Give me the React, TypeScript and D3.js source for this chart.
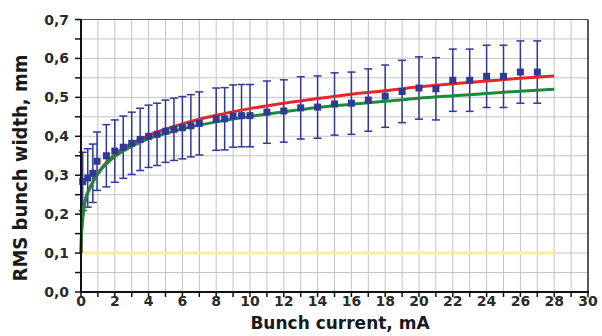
import React from "react";
import * as d3 from "d3";

const currents = [0.1, 0.4, 0.7, 0.95, 1.5, 2, 2.5, 3, 3.5, 4, 4.5, 5, 5.5, 6, 6.5, 7, 8, 8.5, 9, 9.5, 10, 11, 12, 13, 14, 15, 16, 17, 18, 19, 20, 21, 22, 23, 24, 25, 26, 27];
const widths = [0.284, 0.293, 0.305, 0.336, 0.35, 0.362, 0.372, 0.382, 0.392, 0.4, 0.405, 0.413, 0.418, 0.422, 0.427, 0.433, 0.444, 0.445, 0.452, 0.453, 0.453, 0.462, 0.465, 0.473, 0.475, 0.483, 0.485, 0.493, 0.503, 0.515, 0.524, 0.522, 0.544, 0.544, 0.554, 0.554, 0.565, 0.565];
const errors = [0.075, 0.075, 0.075, 0.075, 0.08, 0.08, 0.08, 0.08, 0.08, 0.08, 0.08, 0.08, 0.08, 0.08, 0.08, 0.081, 0.08, 0.08, 0.08, 0.08, 0.08, 0.08, 0.08, 0.08, 0.08, 0.08, 0.08, 0.08, 0.08, 0.08, 0.08, 0.08, 0.08, 0.08, 0.08, 0.08, 0.08, 0.08];

const fitX = [0, 0.03, 0.08, 0.15, 0.25, 0.5, 0.8, 1.2, 1.6, 2, 2.5, 3, 4, 5, 6, 8, 10, 12, 14, 16, 18, 20, 22, 24, 26, 28];
const redFit = [0.1, 0.15, 0.18, 0.21, 0.235, 0.265, 0.29, 0.317, 0.337, 0.353, 0.369, 0.382, 0.402, 0.418, 0.432, 0.454, 0.471, 0.485, 0.497, 0.508, 0.517, 0.527, 0.535, 0.542, 0.549, 0.555];
const greenFit = [0.1, 0.15, 0.18, 0.21, 0.235, 0.265, 0.29, 0.315, 0.333, 0.348, 0.362, 0.374, 0.394, 0.407, 0.419, 0.437, 0.451, 0.463, 0.474, 0.482, 0.49, 0.498, 0.504, 0.51, 0.516, 0.521];

const yellowX = [0, 28.1];
const yellowY = [0.1, 0.1];

const xTicks = [0, 2, 4, 6, 8, 10, 12, 14, 16, 18, 20, 22, 24, 26, 28, 30];
const yTicks = [0, 0.1, 0.2, 0.3, 0.4, 0.5, 0.6, 0.7];
const xTitle = "Bunch current, mA";
const yTitle = "RMS bunch width, mm";

export default function App() {
  const W = 602, H = 336;
  const x = d3.scaleLinear().domain([0, 30]).range([81, 588]);
  const y = d3.scaleLinear().domain([0, 0.7]).range([292, 19.5]);
  const minorX = d3.range(0, 31, 1);
  const minorY = d3.range(0, 0.7001, 0.05);
  const line = d3
    .line<[number, number]>()
    .x((d) => x(d[0]))
    .y((d) => y(d[1]))
    .curve(d3.curveMonotoneX);
  const redPts = fitX.map((v, i) => [v, redFit[i]] as [number, number]);
  const greenPts = fitX.map((v, i) => [v, greenFit[i]] as [number, number]);
  const yellowPts = yellowX.map((v, i) => [v, yellowY[i]] as [number, number]);
  const blue = "#2e3a96";
  const labelFont = "DejaVu Sans, Verdana, sans-serif";
  const fmt = (v: number) => d3.format(".1f")(v).replace(".", ",");

  return (
    <svg width={W} height={H} style={{ position: "absolute", left: 0, top: 0, background: "#fff" }}>
      {/* grid */}
      {minorX.slice(1, -1).map((v) => (
        <line key={"gx" + v} x1={x(v)} x2={x(v)} y1={y(0)} y2={y(0.7)} stroke="#c4c4c4" strokeWidth={1} />
      ))}
      {minorY.slice(1).map((v, i) => (
        <line key={"gy" + i} x1={x(0)} x2={x(30)} y1={y(v)} y2={y(v)} stroke="#c4c4c4" strokeWidth={1} />
      ))}
      {/* frame */}
      <line x1={x(0)} x2={x(30)} y1={y(0.7)} y2={y(0.7)} stroke="#555" strokeWidth={1.2} />
      <line x1={x(30)} x2={x(30)} y1={y(0)} y2={y(0.7)} stroke="#222" strokeWidth={1.5} />
      {/* yellow */}
      <path d={line(yellowPts) || ""} fill="none" stroke="#f6f09c" strokeWidth={3} />
      {/* error bars */}
      {currents.map((c, i) => {
        const cx = x(c);
        const t = y(widths[i] + errors[i]);
        const b = y(widths[i] - errors[i]);
        return (
          <g key={"e" + i} stroke={blue} strokeWidth={1.5}>
            <line x1={cx} x2={cx} y1={t} y2={b} />
            <line x1={cx - 4} x2={cx + 4} y1={t} y2={t} />
            <line x1={cx - 4} x2={cx + 4} y1={b} y2={b} />
          </g>
        );
      })}
      {/* fits */}
      <path d={line(redPts) || ""} fill="none" stroke="#e5262b" strokeWidth={3} />
      <path d={line(greenPts) || ""} fill="none" stroke="#1b8a3c" strokeWidth={3} />
      {/* points */}
      {currents.map((c, i) => (
        <rect key={"p" + i} x={x(c) - 3.5} y={y(widths[i]) - 3.5} width={7} height={7} fill={blue} />
      ))}
      {/* axes */}
      <line x1={x(0)} x2={x(0)} y1={y(0) + 1} y2={y(0.7)} stroke="#111" strokeWidth={2} />
      <line x1={x(0) - 1} x2={x(30) + 1} y1={y(0)} y2={y(0)} stroke="#111" strokeWidth={2} />
      {minorY.map((v, i) => (
        <line key={"ty" + i} x1={x(0) - 6} x2={x(0)} y1={y(v)} y2={y(v)} stroke="#111" strokeWidth={1.5} />
      ))}
      {minorX.map((v) => (
        <line key={"tx" + v} x1={x(v)} x2={x(v)} y1={y(0)} y2={y(0) + 5} stroke="#111" strokeWidth={1.5} />
      ))}
      {yTicks.map((v) => (
        <text key={"ly" + v} x={69} y={y(v)} dy="0.36em" textAnchor="end" fontFamily={labelFont} fontWeight="bold" fontSize={14} fill="#2a2a2a">
          {fmt(v)}
        </text>
      ))}
      {xTicks.map((v) => (
        <text key={"lx" + v} x={x(v)} y={306} textAnchor="middle" fontFamily={labelFont} fontWeight="bold" fontSize={14} fill="#2a2a2a">
          {v}
        </text>
      ))}
      <text x={340} y={329} textAnchor="middle" fontFamily={labelFont} fontWeight="bold" fontSize={17} fill="#1a1a1a">
        {xTitle}
      </text>
      <text
        transform={`translate(27,${168}) rotate(-90)`}
        textAnchor="middle"
        fontFamily="'Liberation Sans Narrow', 'DejaVu Sans Condensed', sans-serif"
        fontWeight="bold"
        fontSize={20}
        fill="#1a1a1a"
      >
        {yTitle}
      </text>
    </svg>
  );
}
